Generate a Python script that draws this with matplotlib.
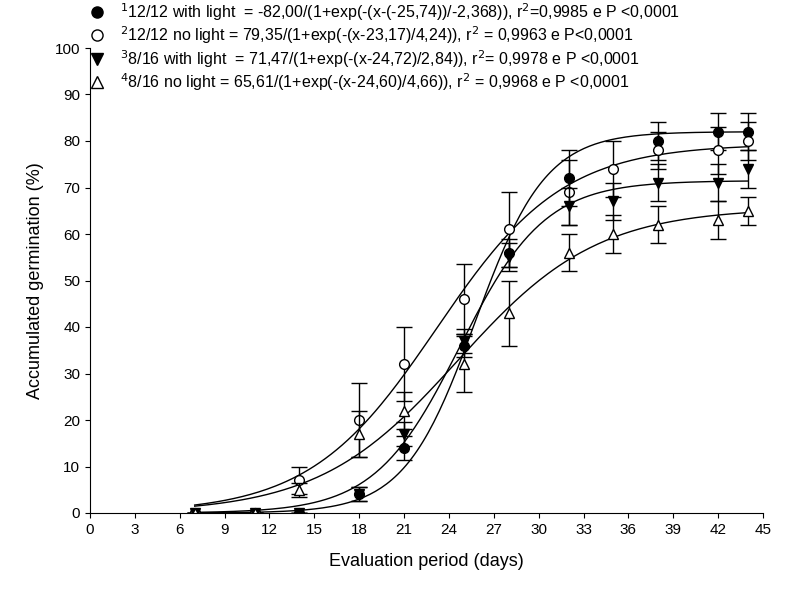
import matplotlib.pyplot as plt
import numpy as np

plt.rcParams['font.family'] = ['Liberation Sans', 'DejaVu Sans']

days = [7, 11, 14, 18, 21, 25, 28, 32, 35, 38, 42, 44]
days1 = [7, 11, 14, 18, 21, 25, 28, 32, 38, 42, 44]
g1 = [0, 0, 0, 4, 14, 36, 56, 72, 80, 82, 82]
e1 = [0, 0, 0, 1.5, 2.5, 2.5, 3, 6, 4, 4, 4]
g2 = [0, 0, 7, 20, 32, 46, 61, 69, 74, 78, 78, 80]
e2 = [0, 0, 3, 8, 8, 7.5, 8, 7, 6, 4, 5, 4]
g3 = [0, 0, 0, 4, 17, 37, 55, 66, 67, 71, 71, 74]
e3 = [0, 0, 0, 1.5, 2.5, 2.5, 3, 4, 4, 4, 4, 4]
g4 = [0, 0, 5, 17, 22, 32, 43, 56, 60, 62, 63, 65]
e4 = [0, 0, 1.5, 5, 4, 6, 7, 4, 4, 4, 4, 3]

# logistic fits: a, x0, b
fits = [(82.00, 25.74, 2.368), (79.35, 23.17, 4.24), (71.47, 24.72, 2.84), (65.61, 24.60, 4.66)]

legend_txt = [
    r'$^1$12/12 with light  = -82,00/(1+exp(-(x-(-25,74))/-2,368)), r$^2$=0,9985 e P <0,0001',
    r'$^2$12/12 no light = 79,35/(1+exp(-(x-23,17)/4,24)), r$^2$ = 0,9963 e P<0,0001',
    r'$^3$8/16 with light  = 71,47/(1+exp(-(x-24,72)/2,84)), r$^2$= 0,9978 e P <0,0001',
    r'$^4$8/16 no light = 65,61/(1+exp(-(x-24,60)/4,66)), r$^2$ = 0,9968 e P <0,0001',
]

fig = plt.figure(figsize=(7.95, 5.95), dpi=100)
ax = fig.add_axes([90/795, 1-513/595, 673/795, 465/595])

xs = np.linspace(7, 44, 200)
for a, x0, b in fits:
    ax.plot(xs, a / (1 + np.exp(-(xs - x0) / b)), color='k', lw=1)

series = [
    (days1, g1, e1, dict(marker='o', mfc='k')),
    (days, g2, e2, dict(marker='o', mfc='white')),
    (days, g3, e3, dict(marker='v', mfc='k')),
    (days, g4, e4, dict(marker='^', mfc='white')),
]
for x, y, e, st in series:
    ax.errorbar(x, y, yerr=e, fmt='none', ecolor='k', elinewidth=1, capsize=6, capthick=1)
    ax.plot(x, y, ls='none', ms=7, mec='k', mew=1, **st)

ax.set_xlim(0, 45)
ax.set_ylim(0, 100)
ax.set_xticks(range(0, 46, 3))
ax.set_yticks(range(0, 101, 10))
ax.tick_params(direction='out', labelsize=11)
for s in ['top', 'right']:
    ax.spines[s].set_visible(False)
ax.set_xlabel('Evaluation period (days)', fontsize=13, labelpad=12)
ax.set_ylabel('Accumulated germination (%)', fontsize=13, labelpad=8)

rows = [12, 35, 59, 82]
for (x, y, e, st), txt, r in zip(series, legend_txt, rows):
    fy = 1 - r / 595
    fig.lines.append(plt.Line2D([97/795], [fy], transform=fig.transFigure, ls='none',
                                ms=8, mec='k', mew=1, **st))
    fig.text(120/795, fy, txt, fontsize=11.5, va='center', ha='left')

fig.savefig('out.png', dpi=100)
